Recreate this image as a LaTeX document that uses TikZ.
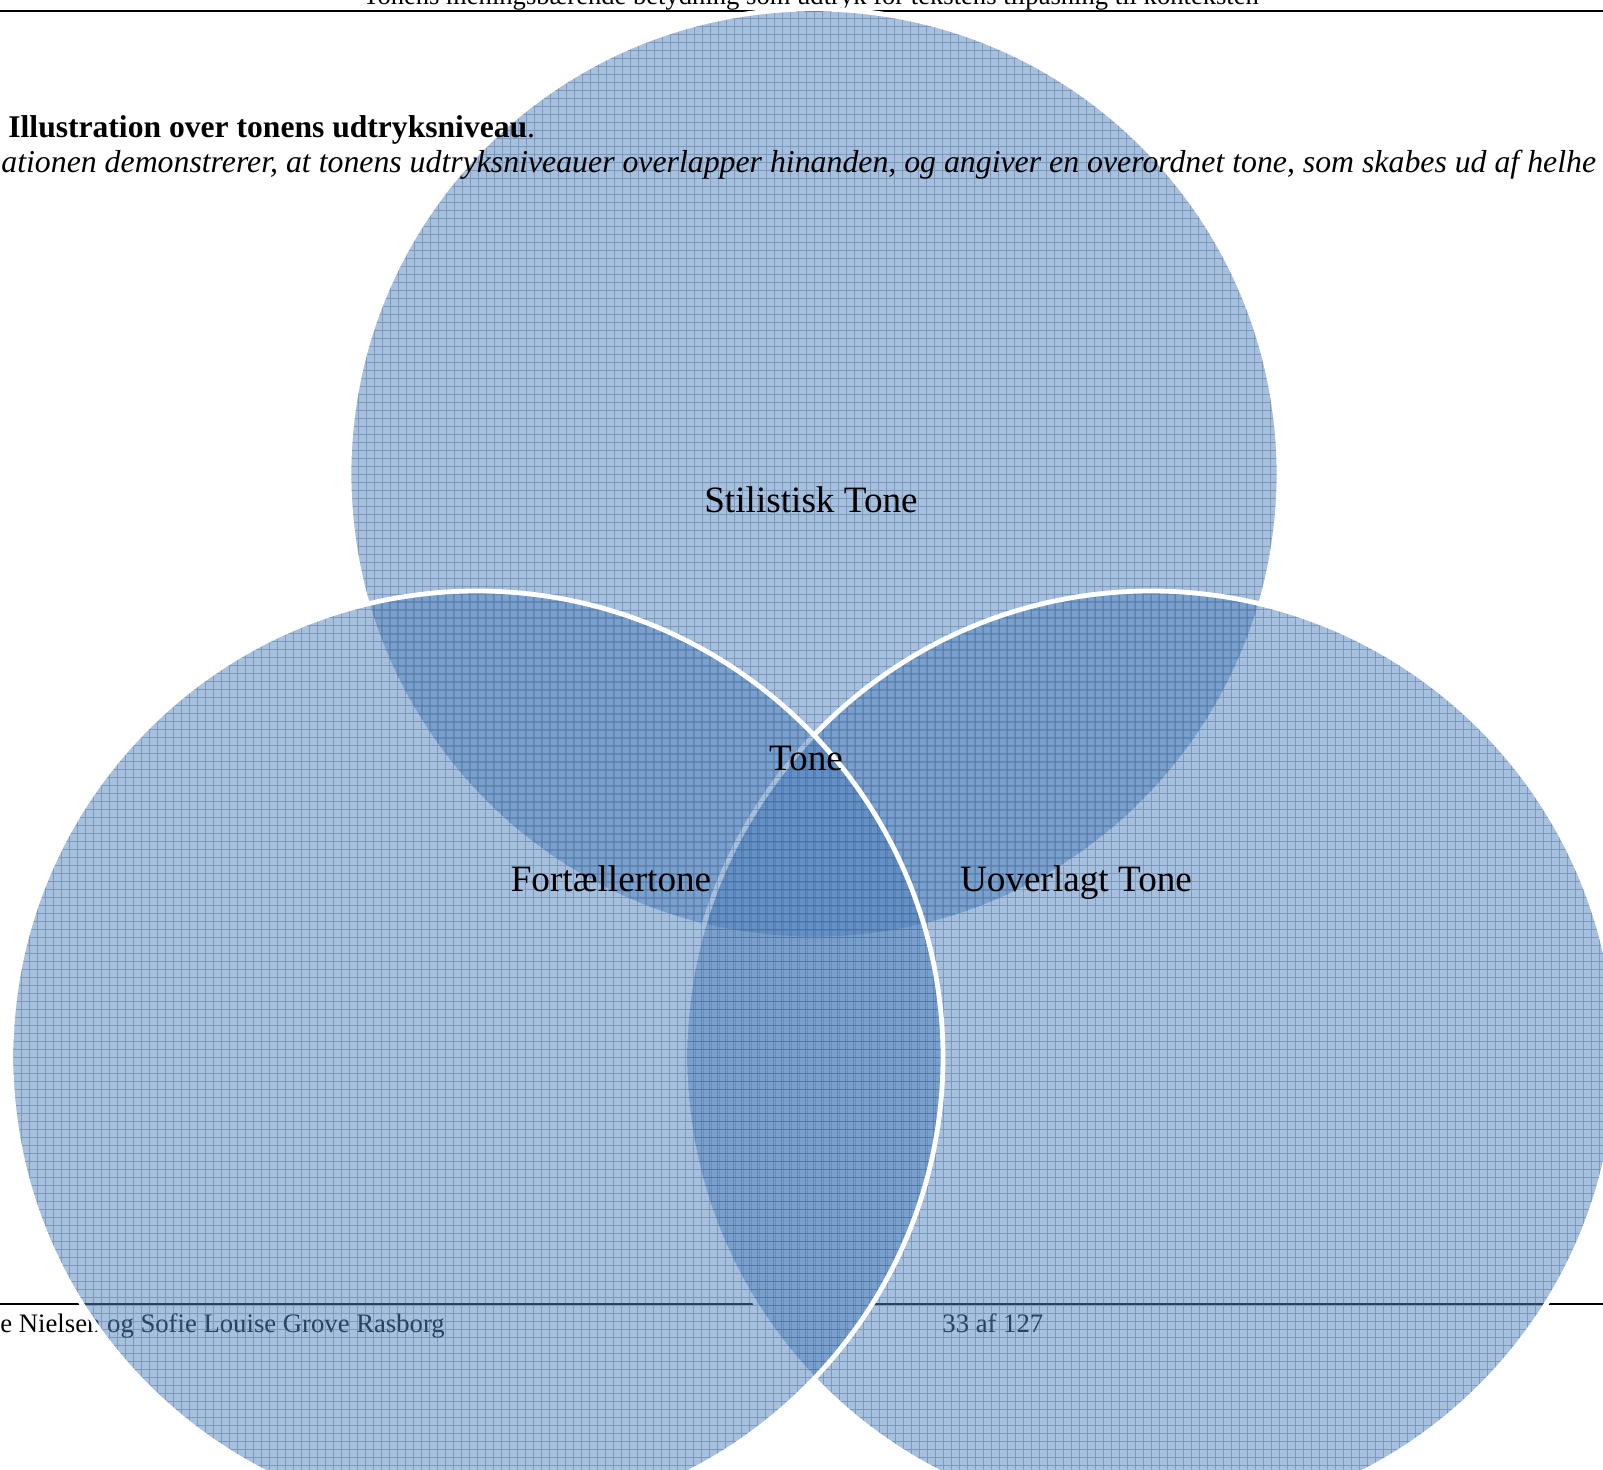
\documentclass[tikz,border=0pt]{standalone}
\usepackage{fontspec}
\setmainfont{Liberation Serif}
\definecolor{ofblue}{RGB}{79,129,189}
\begin{document}
\begin{tikzpicture}[x=0.5pt,y=-0.5pt,
  gridline/.style={ofblue!70!black, draw opacity=0.38, line width=0.35pt, step=4pt},
  venn/.style={circle, inner sep=0pt, outer sep=0pt, minimum size=#1, fill=ofblue, fill opacity=0.5,
    draw=white, draw opacity=1, line width=2.4pt,
    path picture={\draw[gridline] (path picture bounding box.south west) grid (path picture bounding box.north east);}},
  vlabel/.style={font=\fontsize{18.6}{22}\selectfont, anchor=base, inner sep=0pt},
  rule/.style={black, line width=1.1pt},
  pagetext/.style={anchor=base west, inner sep=0pt},
]
\useasboundingbox (0,0) rectangle (1603,1469);
\clip (0,0) rectangle (1603,1469);
% page header
\node[anchor=base, inner sep=0pt, font=\fontsize{13.3}{15}\selectfont] (hdr) at (811,4) {Tonens meningsbærende betydning som udtryk for tekstens tilpasning til konteksten};
\coordinate (h1) at (0,11);
\coordinate (h2) at (1603,11);
\draw[rule, line width=1.3pt] (h1) -- (h2);
% page footer
\coordinate (f1) at (0,1304);
\coordinate (f2) at (756,1304);
\coordinate (f3) at (872,1304);
\coordinate (f4) at (1603,1304);
\draw[rule] (f1) -- (f2);
\draw[rule] (f3) -- (f4);
\node[pagetext, font=\fontsize{13.35}{16}\selectfont] (auth) at (0,1332) {e Nielsen og Sofie Louise Grove Rasborg};
\node[pagetext, font=\fontsize{13.35}{16}\selectfont] (page) at (942,1332) {33 af 127};
% circles
\node[venn=465pt] (top) at (814,474) {};
\node[venn=466pt] (right) at (1151,1057) {};
\node[venn=466pt] (left) at (477,1057) {};
% labels
\node[vlabel] (lstil) at (811,512) {Stilistisk Tone};
\node[vlabel] (ltone) at (806,770) {Tone};
\node[vlabel] (lfort) at (611,891) {Fortællertone};
\node[vlabel] (luov) at (1076,891) {Uoverlagt Tone};
% caption
\node[pagetext, font=\fontsize{15.8}{19}\selectfont] (cap) at (8,137) {\textbf{Illustration over tonens udtryksniveau}.};
\node[pagetext, font=\fontsize{15.9}{19}\selectfont\itshape] (capi) at (1,172) {ationen demonstrerer, at tonens udtryksniveauer overlapper hinanden, og angiver en overordnet tone, som skabes ud af helhe};
\end{tikzpicture}
\end{document}
